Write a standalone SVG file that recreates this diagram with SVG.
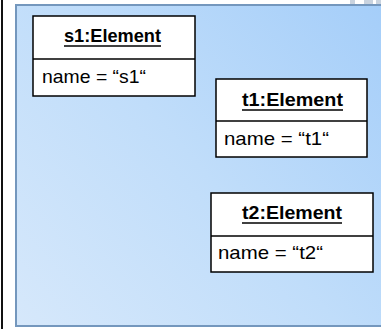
<svg xmlns="http://www.w3.org/2000/svg" width="381" height="329" viewBox="0 0 381 329">
  <style>
    .box { fill: #ffffff; stroke: #000000; stroke-width: 1.5; }
    .title { font-family: "Liberation Sans", Arial, sans-serif; font-size: 18px; font-weight: bold; fill: #000000; }
    .attr { font-family: "Liberation Sans", Arial, sans-serif; font-size: 18.5px; fill: #000000; }
    .uline { stroke: #000000; stroke-width: 1.5; }
  </style>
  <defs>
    <linearGradient id="panelFill" gradientUnits="userSpaceOnUse" x1="16" y1="326" x2="381" y2="5">
      <stop offset="0" stop-color="#d6e8fb"/>
      <stop offset="0.5" stop-color="#c0ddfa"/>
      <stop offset="1" stop-color="#a5cef9"/>
    </linearGradient>
  </defs>

  <rect x="0" y="0" width="381" height="329" fill="#ffffff"/>

  <!-- left frame edge -->
  <rect x="1" y="0" width="2" height="329" fill="#111111"/>

  <!-- scrollbar fragments, top right -->
  <g fill="#c9d3df">
    <rect x="350" y="0" width="5" height="5"/>
    <rect x="364" y="0" width="9" height="5"/>
    <rect x="376" y="0" width="5" height="5"/>
  </g>

  <!-- object diagram canvas -->
  <rect x="16" y="5" width="370" height="321" fill="url(#panelFill)" stroke="#7497bd" stroke-width="2"/>

  <g id="s1">
    <rect class="box" x="33" y="16" width="162" height="80"/>
    <line class="box" x1="33" y1="59" x2="195" y2="59"/>
    <text class="title" x="64" y="42" textLength="97" lengthAdjust="spacingAndGlyphs">s1:Element</text>
    <line class="uline" x1="64" y1="46" x2="161" y2="46"/>
    <text class="attr" x="42" y="83" textLength="104" lengthAdjust="spacingAndGlyphs">name = “s1“</text>
  </g>

  <g id="t1">
    <rect class="box" x="216" y="79" width="151" height="78"/>
    <line class="box" x1="216" y1="121" x2="367" y2="121"/>
    <text class="title" x="242" y="106" textLength="101" lengthAdjust="spacingAndGlyphs">t1:Element</text>
    <line class="uline" x1="242" y1="110" x2="343" y2="110"/>
    <text class="attr" x="224" y="145" textLength="105" lengthAdjust="spacingAndGlyphs">name = “t1“</text>
  </g>

  <g id="t2">
    <rect class="box" x="211" y="193" width="162" height="79"/>
    <line class="box" x1="211" y1="236" x2="373" y2="236"/>
    <text class="title" x="242" y="219" textLength="100" lengthAdjust="spacingAndGlyphs">t2:Element</text>
    <line class="uline" x1="242" y1="223" x2="342" y2="223"/>
    <text class="attr" x="218" y="259" textLength="105" lengthAdjust="spacingAndGlyphs">name = “t2“</text>
  </g>

  <g id="connectors"/>
</svg>
